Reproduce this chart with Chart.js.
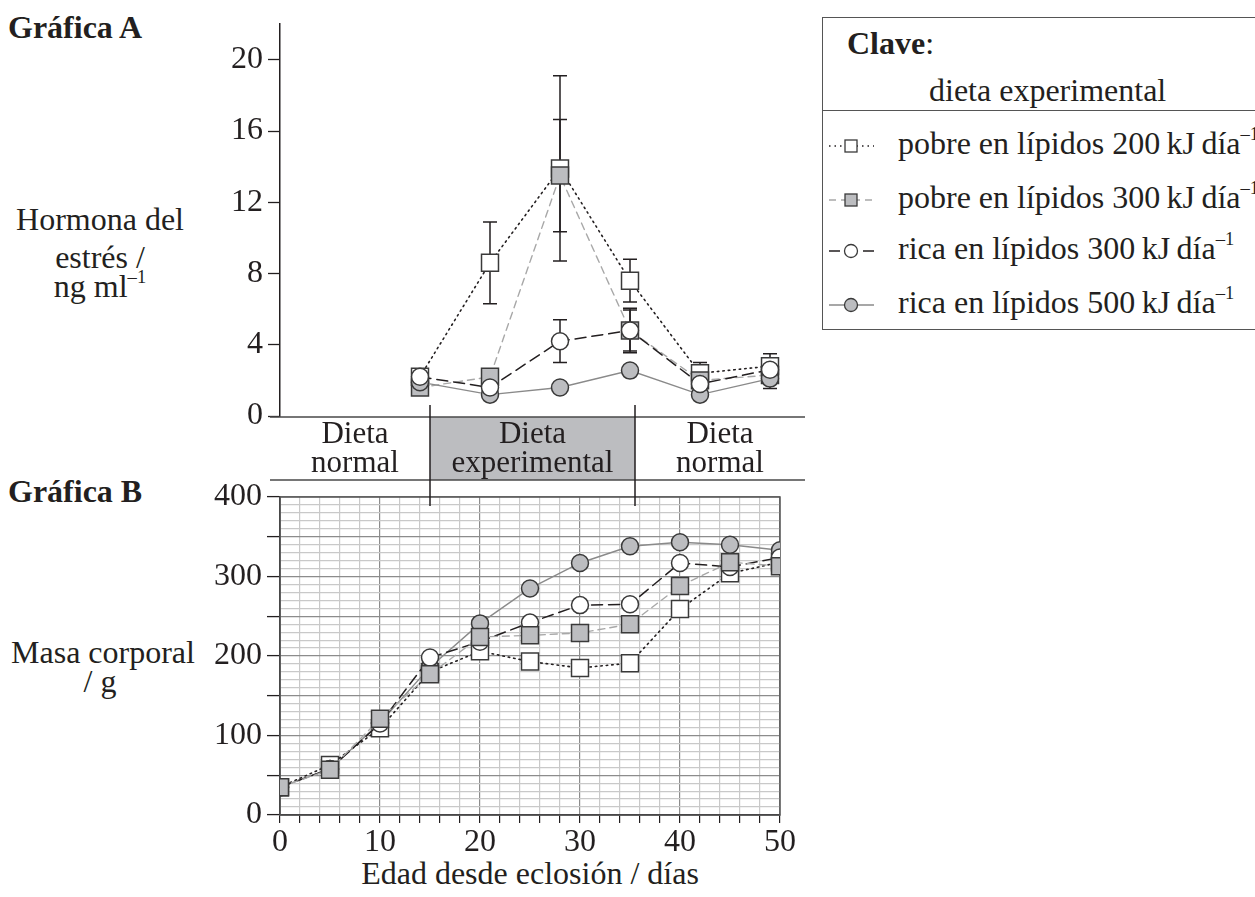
<!DOCTYPE html>
<html lang="es">
<head>
<meta charset="UTF-8">
<title>Gráficas A y B</title>
<script src="https://cdn.jsdelivr.net/npm/chart.js"></script>
<style>
    body {
        margin: 0;
        width: 1255px;
        height: 897px;
        overflow: hidden;
        background: #ffffff;
        color: #231f20;
        font-family: "Liberation Serif", "DejaVu Serif", serif;
        position: relative;
    }
    canvas { position: absolute; left: 0; }
    #grafA { top: 0; z-index: 2; }
    #grafB { top: 420px; z-index: 1; }
    .txt {
        position: absolute;
        font-size: 32px;
        line-height: 32px;
        white-space: nowrap;
    }
    .cen { transform: translateX(-50%); }
    .neg { font-weight: bold; }
    sup { font-size: 58%; vertical-align: 0; position: relative; top: -0.75em; }
    #clave {
        position: absolute;
        left: 822px;
        top: 17px;
        width: 450px;
        height: 313px;
        border: 1.5px solid #555;
        box-sizing: border-box;
    }
    #clave .sep { position: absolute; left: 0; right: 0; top: 92px; border-top: 1.5px solid #555; }
    #clave svg { position: absolute; left: 5px; }
</style>
</head>
<body>
<canvas id="grafB" width="810" height="477"></canvas>
<canvas id="grafA" width="810" height="510"></canvas>

<div class="txt neg" style="left:8px; top:11px;">Gráfica A</div>
<div class="txt cen" style="left:100px; top:203px;">Hormona del</div>
<div class="txt cen" style="left:100px; top:241px;">estrés /</div>
<div class="txt cen" style="left:100px; top:270px;">ng ml<sup>–1</sup></div>

<div class="txt neg" style="left:8px; top:475px;">Gráfica B</div>
<div class="txt cen" style="left:103px; top:636px;">Masa corporal</div>
<div class="txt cen" style="left:100px; top:665px;">/ g</div>
<div class="txt cen" style="left:530px; top:857px;">Edad desde eclosión / días</div>

<div id="clave">
    <div class="txt" style="left:24px; top:9px;"><b>Clave</b>:</div>
    <div class="txt" style="left:106px; top:56px;">dieta experimental</div>
    <div class="sep"></div>
    <div id="filas"></div>
</div>

<script>
// días de muestreo (gráfica A) y hormona del estrés / ng ml-1
const diasA = [14, 21, 28, 35, 42, 49];
const hormPobre200 = [2.2, 8.6, 13.9, 7.6, 2.4, 2.8];
const errPobre200  = [null, 2.3, 5.2, 1.2, 0.6, 0.7];
const hormPobre300 = [1.6, 2.2, 13.5, 4.8, 2.0, 2.3];
const errPobre300  = [null, null, 3.15, 1.15, null, null];
const hormRica300  = [2.2, 1.6, 4.2, 4.8, 1.8, 2.6];
const errRica300   = [null, null, 1.2, 1.25, null, null];
const hormRica500  = [1.9, 1.2, 1.6, 2.55, 1.2, 2.1];
const errRica500   = [null, null, null, null, null, 0.55];

// gráfica B: masa corporal / g
const diasB = [0, 5, 10, 15, 20, 25, 30, 35, 40, 45, 50];
const masaPobre200 = [35, 63, 109, 180, 206, 193, 185, 191, 259, 304, 318];
const masaPobre300 = [35, 57, 121, 177, 224, 226, 229, 240, 288, 318, 313];
const masaRica300  = [35, 58, 115, 198, 218, 242, 264, 265, 317, 312, 324];
const masaRica500  = [35, 58, 116, 186, 241, 285, 317, 338, 343, 340, 333];

const etiquetasA = [0, 4, 8, 12, 16, 20];
const periodos = [
    { desde: 0, hasta: 15, texto: ["Dieta", "normal"], gris: false },
    { desde: 15, hasta: 35.5, texto: ["Dieta", "experimental"], gris: true },
    { desde: 35.5, hasta: 53, texto: ["Dieta", "normal"], gris: false }
];
const series = [
    "pobre en lípidos 200",
    "pobre en lípidos 300",
    "rica en lípidos 300",
    "rica en lípidos 500"
];

const tinta = "#231f20";
const grisRelleno = "#bcbdc0";
const fuente = '"Liberation Serif", "DejaVu Serif", serif';

const estilos = [
    { tipo: "rect", relleno: "#ffffff", linea: "#231f20", guion: [1.5, 4], ancho: 1.6, r: 12 },
    { tipo: "rect", relleno: grisRelleno, linea: "#a8a8a8", guion: [7, 5], ancho: 1.4, r: 12 },
    { tipo: "circle", relleno: "#ffffff", linea: "#231f20", guion: [11, 6], ancho: 1.5, r: 8.5 },
    { tipo: "circle", relleno: grisRelleno, linea: "#8a8a8a", guion: [], ancho: 1.4, r: 8.5 }
];
// orden de dibujo (menor = encima) en cada gráfica
const ordenA = [4, 3, 1, 2];
const ordenB = [4, 1, 2, 3];

function crearSerie(i, xs, ys, errores, orden) {
    const e = estilos[i];
    return {
        label: series[i],
        data: xs.map((x, k) => ({ x: x, y: ys[k] })),
        errores: errores,
        borderColor: e.linea,
        borderWidth: e.ancho,
        borderDash: e.guion,
        borderCapStyle: "round",
        pointStyle: e.tipo,
        pointRadius: e.r,
        pointBackgroundColor: e.relleno,
        pointBorderColor: "#3a3a3a",
        pointBorderWidth: 1.5,
        tension: 0,
        order: orden[i]
    };
}

// barras de error, detrás de los marcadores
const barrasError = {
    id: "barrasError",
    beforeDatasetsDraw(chart) {
        const ctx = chart.ctx;
        const xs = chart.scales.x, ys = chart.scales.y;
        ctx.save();
        ctx.strokeStyle = tinta;
        ctx.lineWidth = 1.5;
        chart.data.datasets.forEach(ds => {
            if (!ds.errores) return;
            ds.data.forEach((p, k) => {
                const e = ds.errores[k];
                if (e == null) return;
                const x = xs.getPixelForValue(p.x);
                const y1 = ys.getPixelForValue(p.y + e);
                const y2 = ys.getPixelForValue(p.y - e);
                ctx.beginPath();
                ctx.moveTo(x, y1); ctx.lineTo(x, y2);
                ctx.moveTo(x - 7, y1); ctx.lineTo(x + 7, y1);
                ctx.moveTo(x - 7, y2); ctx.lineTo(x + 7, y2);
                ctx.stroke();
            });
        });
        ctx.restore();
    }
};

// franja de periodos de dieta bajo la gráfica A
const franjaDieta = {
    id: "franjaDieta",
    afterDraw(chart) {
        const ctx = chart.ctx;
        const xs = chart.scales.x;
        const arriba = chart.chartArea.bottom + 1;
        const abajo = arriba + 63;
        const izq = 270, der = 805;
        ctx.save();
        periodos.forEach(p => {
            const a = Math.max(xs.getPixelForValue(p.desde), xs.left);
            const b = Math.min(xs.getPixelForValue(p.hasta), der);
            if (p.gris) {
                ctx.fillStyle = grisRelleno;
                ctx.fillRect(a, arriba, b - a, abajo - arriba);
            }
            ctx.fillStyle = tinta;
            ctx.font = "31px " + fuente;
            ctx.textAlign = "center";
            ctx.textBaseline = "alphabetic";
            const c = (a + b) / 2;
            ctx.fillText(p.texto[0], c, arriba + 26);
            ctx.fillText(p.texto[1], c, arriba + 55);
        });
        ctx.strokeStyle = "#4a4a4a";
        ctx.lineWidth = 1.5;
        ctx.beginPath();
        ctx.moveTo(izq, arriba); ctx.lineTo(der, arriba);
        ctx.moveTo(izq, abajo); ctx.lineTo(der, abajo);
        ctx.stroke();
        ctx.strokeStyle = tinta;
        ctx.beginPath();
        [15, 35.5].forEach(d => {
            const x = xs.getPixelForValue(d);
            ctx.moveTo(x, arriba - 12); ctx.lineTo(x, abajo + 26);
        });
        ctx.stroke();
        ctx.restore();
    }
};

// marco de la cuadrícula de la gráfica B
const marco = {
    id: "marco",
    beforeDatasetsDraw(chart) {
        const a = chart.chartArea, ctx = chart.ctx;
        ctx.save();
        ctx.strokeStyle = "#555";
        ctx.lineWidth = 1.5;
        ctx.strokeRect(a.left, a.top, a.right - a.left, a.bottom - a.top);
        ctx.restore();
    }
};

Chart.defaults.font.family = fuente;
Chart.defaults.color = tinta;

new Chart(document.getElementById("grafA"), {
    type: "line",
    data: {
        datasets: [
            crearSerie(0, diasA, hormPobre200, errPobre200, ordenA),
            crearSerie(1, diasA, hormPobre300, errPobre300, ordenA),
            crearSerie(2, diasA, hormRica300, errRica300, ordenA),
            crearSerie(3, diasA, hormRica500, errRica500, ordenA)
        ]
    },
    options: {
        responsive: false,
        animation: false,
        layout: { padding: { left: 0, right: 30, top: 19, bottom: 94 } },
        plugins: { legend: { display: false }, tooltip: { enabled: false } },
        scales: {
            x: { type: "linear", min: 0, max: 50, display: false },
            y: {
                min: 0, max: 22,
                afterFit: s => { s.width = 280; },
                afterBuildTicks: s => { s.ticks = etiquetasA.map(v => ({ value: v })); },
                ticks: { font: { size: 32 }, padding: 5, color: tinta },
                grid: { drawOnChartArea: false, tickLength: 12, tickColor: tinta, tickWidth: 1.3 },
                border: { display: true, color: tinta, width: 1.5 }
            }
        }
    },
    plugins: [barrasError, franjaDieta]
});

new Chart(document.getElementById("grafB"), {
    type: "line",
    data: {
        datasets: [
            crearSerie(0, diasB, masaPobre200, null, ordenB),
            crearSerie(1, diasB, masaPobre300, null, ordenB),
            crearSerie(2, diasB, masaRica300, null, ordenB),
            crearSerie(3, diasB, masaRica500, null, ordenB)
        ]
    },
    options: {
        responsive: false,
        animation: false,
        layout: { padding: { left: 0, right: 30, top: 77, bottom: 32 } },
        plugins: { legend: { display: false }, tooltip: { enabled: false } },
        scales: {
            x: {
                type: "linear", min: 0, max: 50,
                afterFit: s => { s.height = 50; },
                ticks: {
                    stepSize: 2, autoSkip: false, maxRotation: 0, padding: 0,
                    font: { size: 32 }, color: tinta,
                    callback: v => (v % 10 === 0 ? v : "")
                },
                grid: {
                    color: c => (c.tick && c.tick.value % 10 === 0 ? "#8c8c8c" : "#c9c9c9"),
                    lineWidth: 1.2,
                    tickLength: 8, tickColor: tinta, tickWidth: 1.2
                },
                border: { display: true, color: tinta, width: 1.5 }
            },
            y: {
                min: 0, max: 400,
                afterFit: s => { s.width = 280; },
                ticks: {
                    stepSize: 10, autoSkip: false, padding: 5,
                    font: { size: 32 }, color: tinta,
                    callback: v => (v % 100 === 0 ? v : "")
                },
                grid: {
                    color: c => (c.tick && c.tick.value % 50 === 0 ? "#8c8c8c" : "#c9c9c9"),
                    lineWidth: 1.2,
                    tickLength: 13,
                    tickColor: c => (c.tick && c.tick.value % 50 === 0 ? tinta : "rgba(0,0,0,0)"),
                    tickWidth: 1.3
                },
                border: { display: true, color: tinta, width: 1.5 }
            }
        }
    },
    plugins: [marco]
});

// clave (leyenda) con los mismos estilos de las series
const filas = document.getElementById("filas");
const topes = [109, 163, 214, 268];
series.forEach((nombre, i) => {
    const e = estilos[i];
    const kj = nombre.split(" ").pop();
    const texto = nombre.slice(0, nombre.length - kj.length);
    const marca = e.tipo === "rect"
        ? `<rect x="17" y="4" width="12" height="12" fill="${e.relleno}" stroke="#3a3a3a" stroke-width="1.3"/>`
        : `<circle cx="23" cy="10" r="6.5" fill="${e.relleno}" stroke="#3a3a3a" stroke-width="1.3"/>`;
    const guion = e.guion.length ? `stroke-dasharray="${e.guion.join(" ")}"` : "";
    filas.insertAdjacentHTML("beforeend",
        `<svg width="48" height="20" style="top:${topes[i] + 9}px">
            <line x1="1" y1="10" x2="46" y2="10" stroke="${e.linea}" stroke-width="1.4" ${guion}/>
            ${marca}
        </svg>
        <div class="txt" style="left:75px; top:${topes[i]}px;">${texto}${kj}&#8201;kJ&#8201;día<sup>–1</sup></div>`);
});
</script>
</body>
</html>
